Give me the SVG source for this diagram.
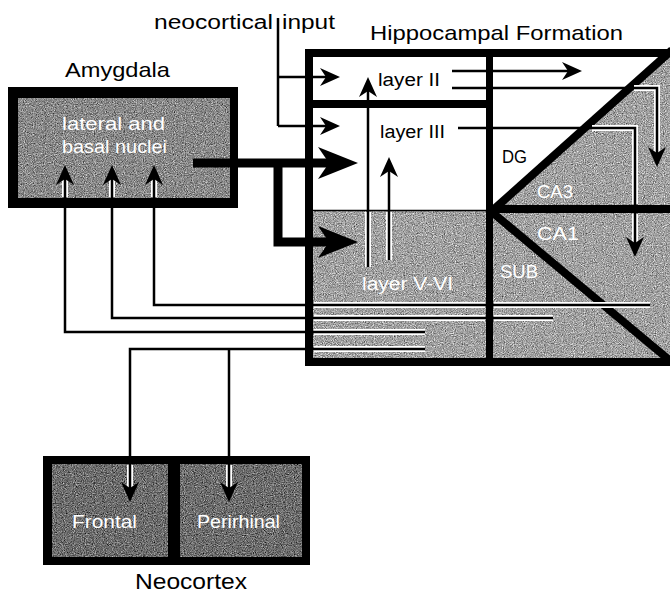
<svg xmlns="http://www.w3.org/2000/svg" width="670" height="595" viewBox="0 0 670 595">
<defs>
<style>
text{font-family:"Liberation Sans",Arial,sans-serif;fill:#000}
.w{fill:#fff}
.title{font-size:21px}
.lbl{font-size:18px}
.gH{fill:#a2a2a2;filter:url(#grain)}
.gA{fill:#8a8a8a;filter:url(#grain)}
.gN{fill:#6e6e6e;filter:url(#grain)}
.blk{fill:#000}
.ln{fill:none;stroke:#000;stroke-width:2.5}
.thk{fill:none;stroke:#000;stroke-width:9;stroke-linejoin:miter}
.halo{fill:none;stroke:#fff;stroke-width:6}
.bar{fill:none;stroke:#000;stroke-width:8}
</style>
<filter id="grain" filterUnits="userSpaceOnUse" x="0" y="0" width="670" height="595" color-interpolation-filters="sRGB">
<feTurbulence type="fractalNoise" baseFrequency="0.9" numOctaves="2" seed="7" result="t"/>
<feColorMatrix in="t" type="matrix" values="0.33 0.33 0.33 0 0  0.33 0.33 0.33 0 0  0.33 0.33 0.33 0 0  0 0 0 0 1" result="g"/>
<feComposite in="g" in2="SourceGraphic" operator="arithmetic" k1="0" k2="1.6" k3="1" k4="-0.8" result="m"/>
<feComposite in="m" in2="SourceGraphic" operator="in"/>
</filter>
<marker id="a" markerUnits="userSpaceOnUse" viewBox="0 0 20 20" markerWidth="20" markerHeight="20" refX="12" refY="10" orient="auto"><path d="M0,1 L20,10 L0,19 L6,10 z" fill="#000"/></marker>
<marker id="A" markerUnits="userSpaceOnUse" viewBox="0 0 40 32" markerWidth="40" markerHeight="32" refX="15" refY="16" orient="auto"><path d="M0,0 L40,16 L0,32 L11,16 z" fill="#000"/></marker>
</defs>

<g id="amygdala">
<rect class="blk" x="8" y="87" width="230" height="121"/>
<rect class="gA" x="18" y="98" width="212" height="100"/>
<text class="title" x="65" y="77" textLength="105" lengthAdjust="spacingAndGlyphs">Amygdala</text>
<text class="w" x="62" y="130" font-size="19" textLength="103" lengthAdjust="spacingAndGlyphs">lateral and</text>
<text class="w" x="62" y="153" font-size="19" textLength="105" lengthAdjust="spacingAndGlyphs">basal nuclei</text>
</g>

<g id="hippocampal-formation">
<text class="title" x="370" y="40" textLength="253" lengthAdjust="spacingAndGlyphs">Hippocampal Formation</text>
<g id="layer-v-vi">
<rect class="gH" x="313" y="211" width="174" height="147"/>
<line x1="313" y1="210.5" x2="487" y2="210.5" stroke="#000" stroke-width="1.5"/>
<text class="w lbl" x="362" y="290" textLength="91" lengthAdjust="spacingAndGlyphs">layer V-VI</text>
</g>
<g id="layer-ii">
<text class="lbl" x="378" y="86" textLength="62" lengthAdjust="spacingAndGlyphs">layer II</text>
</g>
<g id="layer-iii">
<text class="lbl" x="380" y="138" textLength="65" lengthAdjust="spacingAndGlyphs">layer III</text>
</g>
<g id="ca3">
<polygon class="gH" points="670,50 672,50 672,210 493,210"/>
<text class="w lbl" x="537" y="198" textLength="36" lengthAdjust="spacingAndGlyphs">CA3</text>
</g>
<g id="ca1-sub">
<rect class="gH" x="493" y="213" width="180" height="146"/>
<text class="w lbl" x="537" y="240" textLength="42" lengthAdjust="spacingAndGlyphs">CA1</text>
<text class="w lbl" x="500" y="278" textLength="38" lengthAdjust="spacingAndGlyphs">SUB</text>
</g>
<g id="dg">
<text class="lbl" x="502" y="163" textLength="25" lengthAdjust="spacingAndGlyphs">DG</text>
</g>
<g id="hf-frame">
<line class="bar" x1="672" y1="50" x2="493" y2="210"/>
<line class="bar" x1="493" y1="213" x2="674" y2="364"/>
<rect class="blk" x="489" y="205" width="185" height="8"/>
<rect class="blk" x="309" y="100" width="180" height="8"/>
<rect class="blk" x="486" y="53" width="7" height="309"/>
<rect class="bar" x="309" y="53" width="375" height="309"/>
</g>
</g>

<g id="neocortex">
<rect class="blk" x="43" y="456" width="267" height="109"/>
<g id="frontal">
<rect class="gN" x="52" y="464" width="116" height="93"/>
<text class="w" x="72" y="528" font-size="18.5" textLength="65" lengthAdjust="spacingAndGlyphs">Frontal</text>
</g>
<g id="perirhinal">
<rect class="gN" x="180" y="464" width="122" height="93"/>
<text class="w" x="197" y="528" font-size="18.5" textLength="83" lengthAdjust="spacingAndGlyphs">Perirhinal</text>
</g>
<text x="135" y="589" font-size="22" textLength="112" lengthAdjust="spacingAndGlyphs">Neocortex</text>
</g>

<g id="neocortical-input-label">
<text x="154" y="29" font-size="20" textLength="119" lengthAdjust="spacingAndGlyphs">neocortical</text>
<text x="282" y="29" font-size="20" textLength="53" lengthAdjust="spacingAndGlyphs">input</text>
</g>

<g id="halos">
<path class="halo" d="M368,212 V267 M389,212 V260"/>
<path class="halo" d="M634,88 H657 V160"/>
<path class="halo" d="M592,128 H635 V204 M635,214 V250"/>
<path class="halo" d="M314,305 H485 M494,305 H650 M314,318 H485 M494,318 H553 M314,332 H425 M314,349 H425"/>
<path class="halo" d="M65,172 V197 M112,172 V197 M154,172 V197"/>
<path class="halo" d="M130,465 V495 M229,465 V495"/>
</g>

<g id="connectors">
<path class="ln" d="M278,18 V126"/>
<path class="ln" d="M278,77 H332" marker-end="url(#a)"/>
<path class="ln" d="M278,126 H332" marker-end="url(#a)"/>
<path class="thk" d="M193,163 H333" stroke-width="8" marker-end="url(#A)"/>
<path class="thk" d="M278,163 V242 H333" marker-end="url(#A)"/>
<path class="ln" d="M368,267 V85" marker-end="url(#a)"/>
<path class="ln" d="M389,260 V165" marker-end="url(#a)"/>
<path class="ln" d="M452,71 H574" marker-end="url(#a)"/>
<path class="ln" d="M452,88 H657 V159" marker-end="url(#a)"/>
<path class="ln" d="M458,128 H635 V249" marker-end="url(#a)"/>
<path class="ln" d="M650,305 H154 V173" marker-end="url(#a)"/>
<path class="ln" d="M553,318 H112 V173" marker-end="url(#a)"/>
<path class="ln" d="M425,332 H65 V173" marker-end="url(#a)"/>
<path class="ln" d="M425,349 H130 V494" marker-end="url(#a)"/>
<path class="ln" d="M229,349 V494" marker-end="url(#a)"/>
</g>
</svg>
